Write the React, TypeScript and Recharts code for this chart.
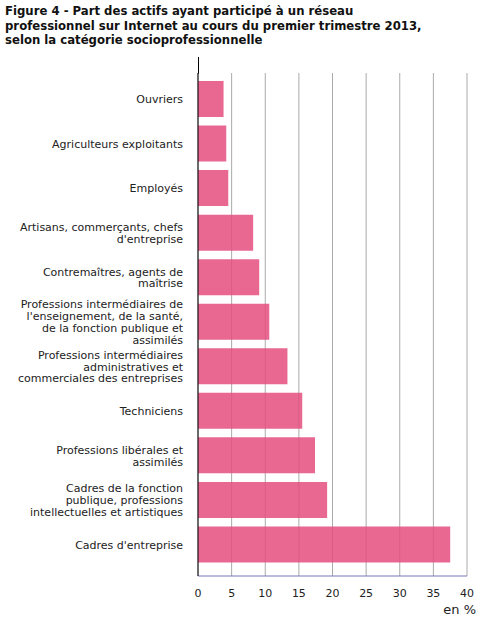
import { BarChart, Bar, XAxis, YAxis, CartesianGrid } from "recharts";

const categories = [
  "Ouvriers",
  "Agriculteurs exploitants",
  "Employés",
  "Artisans, commerçants, chefs\nd'entreprise",
  "Contremaîtres, agents de\nmaîtrise",
  "Professions intermédiaires de\nl'enseignement, de la santé,\nde la fonction publique et\nassimilés",
  "Professions intermédiaires\nadministratives et\ncommerciales des entreprises",
  "Techniciens",
  "Professions libérales et\nassimilés",
  "Cadres de la fonction\npublique, professions\nintellectuelles et artistiques",
  "Cadres d'entreprise",
];

const values = [3.8, 4.2, 4.5, 8.2, 9.1, 10.6, 13.3, 15.5, 17.4, 19.2, 37.5];

const xTicks = [0, 5, 10, 15, 20, 25, 30, 35, 40];

const titleLines = [
  "Figure 4 - Part des actifs ayant participé à un réseau",
  "professionnel sur Internet au cours du premier trimestre 2013,",
  "selon la catégorie socioprofessionnelle",
];

const data = categories.map((name, i) => ({ name, value: values[i] }));

const FONT = "'DejaVu Sans', Verdana, sans-serif";

function CategoryTick(props: any) {
  const { x, y, payload } = props;
  const lines = String(payload.value).split("\n");
  const lh = 11.8;
  const start = y - ((lines.length - 1) * lh) / 2;
  return (
    <text
      x={x}
      y={start}
      textAnchor="end"
      dominantBaseline="central"
      fontSize={11}
      fontFamily={FONT}
      fill="#222"
    >
      {lines.map((l, i) => (
        <tspan key={i} x={x} y={start + i * lh}>
          {l}
        </tspan>
      ))}
    </text>
  );
}

export default function App() {
  return (
    <div
      style={{
        position: "absolute",
        left: 0,
        top: 0,
        width: 480,
        height: 621,
        background: "#fff",
        fontFamily: FONT,
      }}
    >
      <div
        style={{
          position: "absolute",
          left: 5,
          top: 4,
          fontSize: 11.7,
          fontWeight: "bold",
          lineHeight: "14.5px",
          color: "#111",
          whiteSpace: "nowrap",
        }}
      >
        {titleLines.map((t, i) => (
          <div key={i}>{t}</div>
        ))}
      </div>

      {/* y axis line sticks out above the grid */}
      <div
        style={{
          position: "absolute",
          left: 197.5,
          top: 57,
          width: 1,
          height: 17,
          background: "#000",
        }}
      />

      <BarChart
        width={480}
        height={621}
        data={data}
        layout="vertical"
        margin={{ top: 73, right: 13, bottom: 0, left: 0 }}
        style={{ position: "absolute", left: 0, top: 0 }}
      >
        <CartesianGrid horizontal={false} stroke="#aaaaaa" />
        <XAxis
          type="number"
          domain={[0, 40]}
          ticks={xTicks}
          height={45}
          tickLine={false}
          tickMargin={7}
          axisLine={{ stroke: "#7777bb" }}
          tick={{ fontSize: 11, fontFamily: FONT, fill: "#222" }}
          interval={0}
        />
        <YAxis
          type="category"
          dataKey="name"
          width={198}
          tickLine={false}
          tickMargin={9}
          axisLine={{ stroke: "#000" }}
          padding={{ top: 4, bottom: 9 }}
          tick={<CategoryTick />}
          interval={0}
        />
        <Bar
          dataKey="value"
          fill="#e44d7f"
          fillOpacity={0.85}
          barSize={36}
          isAnimationActive={false}
        />
      </BarChart>

      <div
        style={{
          position: "absolute",
          right: 4,
          top: 602,
          fontSize: 13,
          color: "#222",
          lineHeight: "15px",
        }}
      >
        en %
      </div>
    </div>
  );
}
